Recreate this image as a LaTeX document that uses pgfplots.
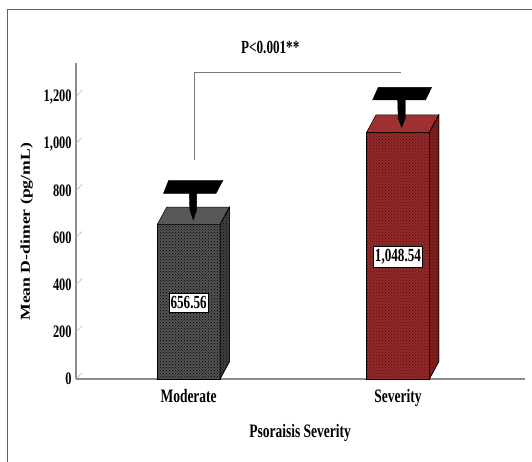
\documentclass[border=0pt]{standalone}
\usepackage{pgfplots}
\pgfplotsset{compat=1.18}
\usepackage{fontspec}
\setmainfont{Liberation Serif}[FakeStretch=0.71]
\newfontfamily\ylabfont{Liberation Serif}[FakeStretch=1.30]
\usetikzlibrary{patterns}
\definecolor{modFront}{RGB}{82,82,82}
\definecolor{modTop}{RGB}{88,88,88}
\definecolor{modSide}{RGB}{66,66,66}
\definecolor{sevFront}{RGB}{148,42,42}
\definecolor{sevTop}{RGB}{160,48,48}
\definecolor{sevSide}{RGB}{130,33,33}
\definecolor{sevDot}{RGB}{80,10,10}
\definecolor{frameC}{RGB}{95,95,95}
\definecolor{axisC}{RGB}{140,140,140}
\definecolor{brC}{RGB}{120,120,120}
\begin{document}
\begin{tikzpicture}
\useasboundingbox (0,0) rectangle (532pt,-462pt);
\begin{axis}[
  at={(76pt,-379pt)}, anchor=south west,
  scale only axis, width=449pt, height=316pt,
  xmin=-0.538, xmax=1.607, ymin=0, ymax=1343,
  clip=false,
  axis lines=left,
  axis line style={-, draw=axisC, line width=1.1pt},
  xtick={0,1}, xticklabels={Moderate,Severity},
  ytick={0,200,400,600,800,1000,1200},
  tick style={draw=none},
  /pgf/number format/assume math mode=true,
  yticklabel style={/pgf/number format/1000 sep={,}, font=\fontsize{17.5}{20}\selectfont\bfseries, inner xsep=2pt},
  xticklabel style={font=\fontsize{19}{22}\selectfont\bfseries, yshift=-5pt},
  xlabel={Psoraisis Severity},
  xlabel style={at={(axis description cs:0.499,-0.1700)}, anchor=center, font=\fontsize{19}{22}\selectfont\bfseries},
  ylabel={Mean D-dimer (pg/mL)},
  ylabel style={at={(axis description cs:-0.1098,0.466)}, anchor=center, font=\ylabfont\fontsize{13.6}{15}\selectfont\bfseries},
]
% y tick slashes
\addplot[gray!55, line width=0.6pt, unbounded coords=jump, forget plot] coordinates {
 (-0.538,0) (-0.509,27) (nan,nan)
 (-0.538,200) (-0.509,227) (nan,nan)
 (-0.538,400) (-0.509,427) (nan,nan)
 (-0.538,600) (-0.509,627) (nan,nan)
 (-0.538,800) (-0.509,827) (nan,nan)
 (-0.538,1000) (-0.509,1027) (nan,nan)
 (-0.538,1200) (-0.509,1227)
};
% significance bracket
\addplot[brC, line width=1.3pt, forget plot] coordinates {(0.027,931) (0.027,1302) (1.013,1302)};
% Moderate bar (mean 656.56)
\addplot[draw=black, line width=0.5pt, fill=modFront, postaction={pattern=crosshatch dots, pattern color=black}, forget plot]
  coordinates {(-0.15,0) (0.15,0) (0.15,656.56) (-0.15,656.56)} -- cycle;
\addplot[draw=black, line width=0.5pt, fill=modTop, forget plot]
  coordinates {(-0.15,656.56) (0.15,656.56) (0.195,730.06) (-0.105,730.06)} -- cycle;
\addplot[draw=black, line width=0.5pt, fill=modSide, postaction={pattern=crosshatch dots, pattern color=black}, forget plot]
  coordinates {(0.15,0) (0.195,73.5) (0.195,730.06) (0.15,656.56)} -- cycle;
% Severity bar (mean 1048.54)
\addplot[draw=black, line width=0.5pt, fill=sevFront, postaction={pattern=crosshatch dots, pattern color=sevDot}, forget plot]
  coordinates {(0.85,0) (1.15,0) (1.15,1048.54) (0.85,1048.54)} -- cycle;
\addplot[draw=black, line width=0.5pt, fill=sevTop, forget plot]
  coordinates {(0.85,1048.54) (1.15,1048.54) (1.195,1122.04) (0.895,1122.04)} -- cycle;
\addplot[draw=black, line width=0.5pt, fill=sevSide, postaction={pattern=crosshatch dots, pattern color=sevDot}, forget plot]
  coordinates {(1.15,0) (1.195,73.5) (1.195,1122.04) (1.15,1048.54)} -- cycle;
% error bar stems
\addplot[fill=black, draw=black, forget plot]
  coordinates {(0.002,815) (0.038,815) (0.038,718) (0.022,676) (0.006,718)} -- cycle;
\addplot[fill=black, draw=black, forget plot]
  coordinates {(0.998,1212) (1.035,1212) (1.035,1108) (1.018,1070) (1.001,1108)} -- cycle;
% error bar caps
\addplot[fill=black, draw=black, forget plot]
  coordinates {(-0.120,789) (0.131,789) (0.164,844.5) (-0.095,844.5)} -- cycle;
\addplot[fill=black, draw=black, forget plot]
  coordinates {(0.879,1186) (1.132,1186) (1.161,1239.7) (0.906,1239.7)} -- cycle;
% value labels
\node[draw=black, fill=white, line width=0.6pt, inner xsep=1.5pt, inner ysep=3pt, font=\fontsize{18.5}{20}\selectfont\bfseries] at (axis cs:0,324) {656.56};
\node[draw=black, fill=white, line width=0.6pt, inner xsep=1.5pt, inner ysep=3pt, font=\fontsize{18.5}{20}\selectfont\bfseries] at (axis cs:1,520) {1,048.54};
\node[font=\fontsize{18.5}{20}\selectfont\bfseries] at (axis cs:0.39,1408) {P<0.001**};
\end{axis}
\draw[frameC, line width=1.3pt] (7.4pt,-462pt) -- (7.4pt,-9.3pt) -- (532pt,-9.3pt);
\end{tikzpicture}
\end{document}
